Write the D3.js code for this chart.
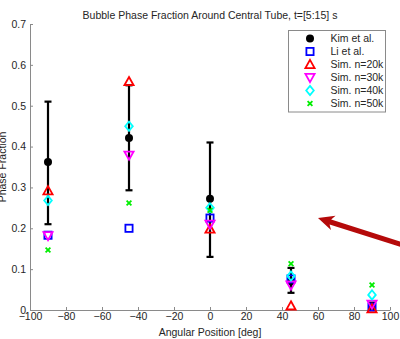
<!DOCTYPE html>
<html>
<head>
<meta charset="utf-8">
<script src="https://cdn.jsdelivr.net/npm/d3@7"></script>
<style>
  html, body { margin: 0; padding: 0; background: #fff; overflow: hidden; }
  svg { display: block; font-family: "Liberation Sans", Arial, Helvetica, sans-serif; }
</style>
</head>
<body>
<svg id="chart" width="400" height="339"></svg>
<script>
// Angular positions around the tube [deg]
const angles = [-90, -45, 0, 45, 90];

// Experimental data (Kim et al.) with error bounds
const kimMean = [0.362, 0.421, 0.272, 0.070, 0.010];
const kimLow  = [0.210, 0.293, 0.130, 0.042, 0.004];
const kimHigh = [0.510, 0.550, 0.410, 0.103, 0.018];

// Li et al.
const liVals = [0.183, 0.200, 0.225, 0.076, 0.007];

// Simulations at different particle counts
const sim20k = [0.292, 0.559, 0.198, 0.010, 0.003];
const sim30k = [0.182, 0.379, 0.210, 0.061, 0.014];
const sim40k = [0.268, 0.450, 0.250, 0.083, 0.037];
const sim50k = [0.147, 0.262, 0.244, 0.113, 0.061];

const xTicks = [-100, -80, -60, -40, -20, 0, 20, 40, 60, 80, 100];
const yTicks = [0, 0.1, 0.2, 0.3, 0.4, 0.5, 0.6, 0.7];

const seriesNames = ["Kim et al.", "Li et al.", "Sim. n=20k", "Sim. n=30k", "Sim. n=40k", "Sim. n=50k"];

const svg = d3.select("#chart");
const x = d3.scaleLinear().domain([-100, 100]).range([30, 390]);
const y = d3.scaleLinear().domain([0, 0.7]).range([310, 24]);

const axisColor = "#8a8a8a";
const textColor = "#262626";

// Title
svg.append("text")
  .attr("x", 210).attr("y", 19)
  .attr("text-anchor", "middle")
  .attr("font-size", 10.5)
  .attr("fill", textColor)
  .text("Bubble Phase Fraction Around Central Tube, t=[5:15] s");

// Axes
const xAxis = svg.append("g").attr("transform", `translate(0,${y(0)})`)
  .call(d3.axisBottom(x).tickValues(xTicks).tickSizeInner(-3).tickSizeOuter(0).tickPadding(3)
    .tickFormat(d => d3.format("")(d).replace("-", "\u2212")));
const yAxis = svg.append("g").attr("transform", `translate(${x(-100)},0)`)
  .call(d3.axisLeft(y).tickValues(yTicks).tickSizeInner(-3).tickSizeOuter(0).tickPadding(4)
    .tickFormat(d => d === 0 ? "0" : d3.format(".1f")(d)));
[xAxis, yAxis].forEach(g => {
  g.select(".domain").attr("stroke", axisColor).attr("stroke-width", 1);
  g.selectAll(".tick line").attr("stroke", axisColor);
  g.selectAll(".tick text").attr("fill", textColor).attr("font-size", 10.5)
    .attr("font-family", "Liberation Sans, Arial, sans-serif");
});

// Axis labels
svg.append("text")
  .attr("x", 210).attr("y", 336)
  .attr("text-anchor", "middle")
  .attr("font-size", 10.5)
  .attr("fill", textColor)
  .text("Angular Position [deg]");
svg.append("text")
  .attr("transform", `translate(6,${y(0.35)}) rotate(-90)`)
  .attr("text-anchor", "middle")
  .attr("font-size", 10.5)
  .attr("fill", textColor)
  .text("Phase Fraction");

// Marker shapes
function drawMarker(g, type, cx, cy) {
  if (type === "circle") {
    g.append("circle").attr("cx", cx).attr("cy", cy).attr("r", 4).attr("fill", "#000");
  } else if (type === "square") {
    g.append("rect").attr("x", cx - 3.6).attr("y", cy - 3.6).attr("width", 7.2).attr("height", 7.2)
      .attr("fill", "none").attr("stroke", "#0000ff").attr("stroke-width", 1.8);
  } else if (type === "up") {
    g.append("path").attr("d", `M${cx},${cy - 4.6}L${cx + 4.6},${cy + 3.6}L${cx - 4.6},${cy + 3.6}Z`)
      .attr("fill", "none").attr("stroke", "#ff0000").attr("stroke-width", 1.8);
  } else if (type === "down") {
    g.append("path").attr("d", `M${cx},${cy + 4.6}L${cx + 4.6},${cy - 3.6}L${cx - 4.6},${cy - 3.6}Z`)
      .attr("fill", "none").attr("stroke", "#ff00ff").attr("stroke-width", 1.8);
  } else if (type === "diamond") {
    g.append("path").attr("d", `M${cx},${cy - 4.6}L${cx + 3.8},${cy}L${cx},${cy + 4.6}L${cx - 3.8},${cy}Z`)
      .attr("fill", "none").attr("stroke", "#00ffff").attr("stroke-width", 1.8);
  } else if (type === "x") {
    const s = 2.4;
    g.append("path").attr("d", `M${cx - s},${cy - s}L${cx + s},${cy + s}M${cx - s},${cy + s}L${cx + s},${cy - s}`)
      .attr("fill", "none").attr("stroke", "#00ee00").attr("stroke-width", 1.8);
  }
}

const plot = svg.append("g");

// Error bars for Kim et al.
angles.forEach((a, i) => {
  const g = plot.append("g").attr("stroke", "#000").attr("stroke-width", 2.2);
  g.append("line").attr("x1", x(a)).attr("x2", x(a)).attr("y1", y(kimLow[i])).attr("y2", y(kimHigh[i]));
  g.append("line").attr("x1", x(a) - 3.5).attr("x2", x(a) + 3.5).attr("y1", y(kimLow[i])).attr("y2", y(kimLow[i]));
  g.append("line").attr("x1", x(a) - 3.5).attr("x2", x(a) + 3.5).attr("y1", y(kimHigh[i])).attr("y2", y(kimHigh[i]));
});

const series = [
  { vals: kimMean, type: "circle" },
  { vals: liVals, type: "square" },
  { vals: sim20k, type: "up" },
  { vals: sim30k, type: "down" },
  { vals: sim40k, type: "diamond" },
  { vals: sim50k, type: "x" }
];
series.forEach(s => {
  const g = plot.append("g");
  angles.forEach((a, i) => drawMarker(g, s.type, x(a), y(s.vals[i])));
});

// Legend
const legend = svg.append("g");
legend.append("rect").attr("x", 288.5).attr("y", 30.5).attr("width", 97).attr("height", 81.5)
  .attr("fill", "#fff").attr("stroke", "#8a8a8a").attr("stroke-width", 1);
series.forEach((s, i) => {
  const ly = 38.5 + i * 13;
  drawMarker(legend, s.type, 310, ly);
  legend.append("text").attr("x", 330.5).attr("y", ly + 3.8)
    .attr("font-size", 10.5).attr("fill", textColor).text(seriesNames[i]);
});

// Annotation arrow pointing into the plot
const tip = [x(60), y(0.225)];
const tail = [x(110), y(0.155)];
const ang = Math.atan2(tail[1] - tip[1], tail[0] - tip[0]);
const headLen = 16, headHalf = 7.5, shaft = 2.6;
const ux = Math.cos(ang), uy = Math.sin(ang), px = -uy, py = ux;
const hb = [tip[0] + ux * headLen, tip[1] + uy * headLen];
const arrowPts = [
  tip,
  [hb[0] + px * headHalf, hb[1] + py * headHalf],
  [hb[0] - ux * 3 + px * shaft, hb[1] - uy * 3 + py * shaft],
  [tail[0] + px * shaft, tail[1] + py * shaft],
  [tail[0] - px * shaft, tail[1] - py * shaft],
  [hb[0] - ux * 3 - px * shaft, hb[1] - uy * 3 - py * shaft],
  [hb[0] - px * headHalf, hb[1] - py * headHalf]
];
svg.append("path").attr("d", "M" + arrowPts.map(p => p.join(",")).join("L") + "Z")
  .attr("fill", "#b50a0a");
</script>
</body>
</html>
